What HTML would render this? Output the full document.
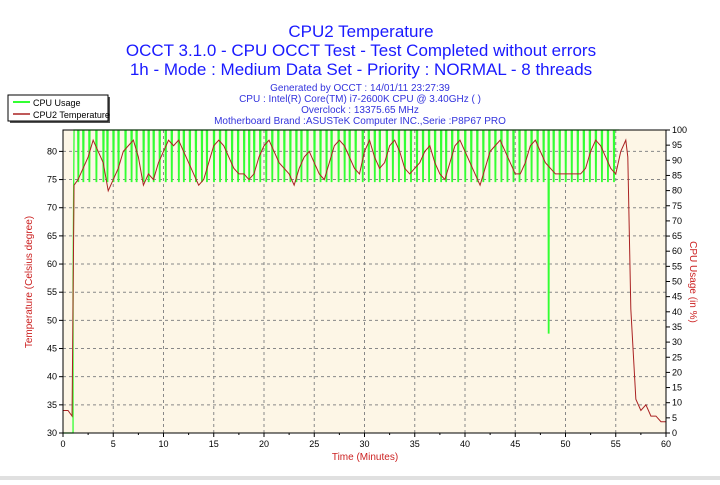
<!DOCTYPE html>
<html><head><meta charset="utf-8"><style>
body{margin:0;background:#fff;width:720px;height:480px;overflow:hidden;font-family:"Liberation Sans",sans-serif}
</style></head><body>
<svg id="c" width="720" height="480" xmlns="http://www.w3.org/2000/svg" font-family="Liberation Sans, sans-serif">
<rect x="0" y="476" width="720" height="4" fill="#e0e0e0"/>
<g fill="#1a1aff" text-anchor="middle">
<text x="361" y="37" font-size="17">CPU2 Temperature</text>
<text x="361" y="56" font-size="17">OCCT 3.1.0 - CPU OCCT Test - Test Completed without errors</text>
<text x="361" y="75" font-size="17">1h - Mode : Medium Data Set - Priority : NORMAL - 8 threads</text>
<g font-size="10" fill="#3333dd">
<text x="360" y="91">Generated by OCCT : 14/01/11 23:27:39</text>
<text x="360" y="102">CPU : Intel(R) Core(TM) i7-2600K CPU @ 3.40GHz (  )</text>
<text x="360" y="113">Overclock : 13375.65 MHz</text>
<text x="360" y="124">Motherboard Brand :ASUSTeK Computer INC.,Serie :P8P67 PRO</text>
</g></g>
<g>
<rect x="10" y="97" width="100" height="26" fill="#555"/>
<rect x="8" y="95" width="100" height="26" fill="#fff" stroke="#000"/>
<line x1="13" y1="102" x2="30" y2="102" stroke="#33ff33" stroke-width="2"/>
<text x="33" y="106" font-size="9">CPU Usage</text>
<line x1="13" y1="114" x2="30" y2="114" stroke="#aa2222" stroke-width="1.5"/>
<text x="33" y="118" font-size="9">CPU2 Temperature</text>
</g>
<rect x="63" y="130" width="603" height="303" fill="#fdf6e6"/>
<g id="grid"></g><g id="series"></g><g id="axes"></g>
<text x="365" y="460" font-size="10" fill="#cc2222" text-anchor="middle">Time (Minutes)</text>
<text transform="translate(32,282) rotate(-90)" font-size="10" fill="#cc2222" text-anchor="middle">Temperature (Celsius degree)</text>
<text transform="translate(690,282) rotate(90)" font-size="10" fill="#cc2222" text-anchor="middle">CPU Usage (in %)</text>
</svg>
<script>
const xTicks=[0,5,10,15,20,25,30,35,40,45,50,55,60];
const yTicks=[30,35,40,45,50,55,60,65,70,75,80];
const y2Ticks=[0,5,10,15,20,25,30,35,40,45,50,55,60,65,70,75,80,85,90,95,100];
const tempTimes=[0,0.5,0.9,1.1,1.5,2,2.5,3,3.5,4,4.5,5,5.5,6,6.5,7,7.5,8,8.5,9,9.5,10,10.5,11,11.5,12,12.5,13,13.5,14,14.5,15,15.5,16,16.5,17,17.5,18,18.5,19,19.5,20,20.5,21,21.5,22,22.5,23,23.5,24,24.5,25,25.5,26,26.5,27,27.5,28,28.5,29,29.5,30,30.5,31,31.5,32,32.5,33,33.5,34,34.5,35,35.5,36,36.5,37,37.5,38,38.5,39,39.5,40,40.5,41,41.5,42,42.5,43,43.5,44,44.5,45,45.5,46,46.5,47,47.5,48,48.5,49,49.5,50,50.5,51,51.5,52,52.5,53,53.5,54,54.5,55,55.5,56,56.2,56.5,57,57.5,58,58.5,59,59.5,60];
const tempValues=[34,34,33,74,75,77,79,82,80,78,73,75,77,80,81,82,79,74,76,75,78,80,82,81,82,80,78,76,74,75,78,81,82,81,79,77,76,76,75,76,79,81,82,80,78,77,76,74,77,79,80,78,76,75,78,81,82,81,79,77,76,80,82,79,77,78,81,82,80,77,76,77,78,80,81,78,76,75,78,81,82,80,78,76,74,77,80,81,82,80,78,76,76,78,81,82,80,78,77,76,76,76,76,76,76,77,80,82,81,79,77,76,80,82,79,52,36,34,35,33,33,32,32,31];
const usageTimes=[0,1.0,1.0,1.1];
const usageValues=[0,0,50,100];
const dropTimes=[1.5,2,2.6,3.3,4,4.4,5,5.5,6.2,6.8,7.3,8,8.5,9,9.6,10.2,10.8,11.5,12,12.6,13.2,13.8,14.3,15,15.6,16.2,16.8,17.4,18,18.5,19,19.6,20.2,20.8,21.4,22,22.6,23.2,23.7,24.3,25,25.6,26.2,26.7,27.4,28,28.5,29.1,29.8,30.4,31,31.5,32.2,32.8,33.4,34,34.6,35.2,35.8,36.4,37,37.6,38.1,38.7,39.3,40,40.6,41.2,41.8,42.4,43,43.6,44.2,44.8,45.4,46,46.6,47.2,47.8,48.3,48.8,49.4,50,50.6,51.2,51.8,52.4,53,53.6,54.2,54.8,55.4];
const dropValues=[83,83,83,83,83,83,83,83,83,83,83,83,83,83,83,83,83,83,83,83,83,83,83,83,83,83,83,83,83,83,83,83,83,83,83,83,83,83,83,83,83,83,83,83,83,83,83,83,83,83,83,83,83,83,83,83,83,83,83,83,83,83,83,83,83,83,83,83,83,83,83,83,83,83,83,83,83,83,83,33,83,83,83,83,83,83,83,83,83,83,83];
const endTimes=[56.0,56.05,56.1,60];
const endValues=[100,40,0,0];
const X0=63,X1=666,Y0=433,Y1=130,TMIN=30,TMAX=83.8;
const sx=t=>X0+(t/60)*(X1-X0);
const sy=v=>Y0-(v-TMIN)/(TMAX-TMIN)*(Y0-Y1);
const sy2=v=>Y0-(v/100)*(Y0-Y1);
const NS="http://www.w3.org/2000/svg";
function mk(p,tag,a){const e=document.createElementNS(NS,tag);for(const k in a)e.setAttribute(k,a[k]);p.appendChild(e);return e;}
const grid=document.getElementById('grid'),axes=document.getElementById('axes'),ser=document.getElementById('series');
xTicks.forEach(t=>{if(t>0&&t<60){const l=mk(grid,'line',{x1:sx(t),x2:sx(t),y1:Y1,y2:Y0,stroke:'#888','stroke-dasharray':'3,3'});

}
const tx=mk(axes,'text',{x:sx(t),y:Y0+14,'font-size':9,'text-anchor':'middle'});tx.textContent=t;


mk(axes,'line',{x1:sx(t),x2:sx(t),y1:Y0,y2:Y0+4,stroke:'#000'});
if(t<60)mk(axes,'line',{x1:sx(t+2.5),x2:sx(t+2.5),y1:Y0,y2:Y0+2,stroke:'#000'});});
yTicks.forEach(v=>{if(v>30){const l=mk(grid,'line',{x1:X0,x2:X1,y1:sy(v),y2:sy(v),stroke:'#888','stroke-dasharray':'3,3'});

}
const tx=mk(axes,'text',{x:X0-6,y:sy(v)+3,'font-size':9,'text-anchor':'end'});tx.textContent=v;


mk(axes,'line',{x1:X0-4,x2:X0,y1:sy(v),y2:sy(v),stroke:'#000'});});
y2Ticks.forEach(v=>{const tx=mk(axes,'text',{x:X1+6,y:sy2(v)+3,'font-size':9});tx.textContent=v;


mk(axes,'line',{x1:X1,x2:X1+4,y1:sy2(v),y2:sy2(v),stroke:'#000'});});
const fr=mk(axes,'rect',{x:X0,y:Y1,width:X1-X0,height:Y0-Y1,fill:'none',stroke:'#000'});


let pts=usageTimes.map((t,i)=>[t,usageValues[i]]);
dropTimes.forEach((t,i)=>{pts.push([t-0.03,100]);pts.push([t,dropValues[i]]);pts.push([t+0.05,dropValues[i]]);pts.push([t+0.08,100]);});
endTimes.forEach((t,i)=>pts.push([t,endValues[i]]));
const up=mk(ser,'polyline',{points:pts.map(p=>sx(p[0])+','+sy2(p[1])).join(' '),fill:'none',stroke:'#33ff33','stroke-width':1.3});


const tp=mk(ser,'polyline',{points:tempTimes.map((t,i)=>sx(t)+','+sy(tempValues[i])).join(' '),fill:'none',stroke:'#aa2222','stroke-width':1});


</script>
</body></html>
